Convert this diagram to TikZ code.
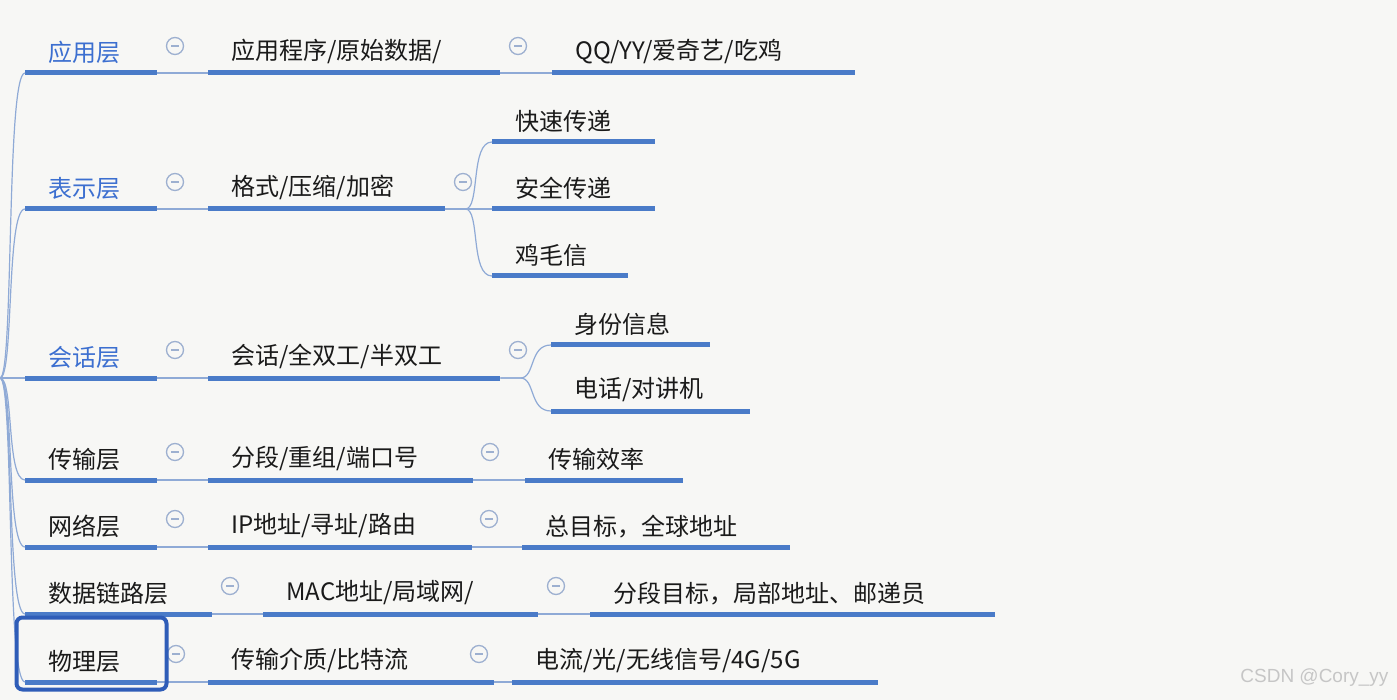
\documentclass[tikz,border=0pt]{standalone}
\usepackage{fontspec}
\usetikzlibrary{calc}
\newfontfamily\cjk{Noto Sans CJK SC}
\definecolor{bg}{HTML}{F7F7F5}
\definecolor{ul}{HTML}{4A7BC8}
\definecolor{cn}{HTML}{8FAAD6}
\definecolor{ic}{HTML}{9DB0D0}
\definecolor{bt}{HTML}{3C6FD0}
\definecolor{tx}{HTML}{1A1A1A}
\definecolor{hb}{HTML}{2F5DB8}
\tikzset{
 item/.style={anchor=south west,inner xsep=0pt,inner ysep=9pt,align=left,font=\cjk\fontsize{24}{28}\selectfont,text=tx},
 uline/.style={ul,line width=5pt},
 conn/.style={cn,line width=1.2pt},
 icon/.style={circle,draw=ic,line width=1.3pt,minimum size=17pt,inner sep=0pt,
   path picture={\draw[ic,line width=1.3pt] ([xshift=-4pt]path picture bounding box.center)--([xshift=4pt]path picture bounding box.center);}}
}
\newcommand{\itm}[6]{%
 \node[item,text width=#3-#2 pt,#6] (#1) at (#2,#4) {\hspace*{23pt}#5};
 \draw[uline] (#1.south west)--(#1.south east);}
\begin{document}
\begin{tikzpicture}[x=1pt,y=-1pt]
\fill[bg] (0,0) rectangle (1397,700);
\useasboundingbox (0,0) rectangle (1397,700);
\coordinate (root) at (0,378);
% level 1
\itm{a1}{25}{157}{73}{应用层}{text=bt}
\itm{b1}{25}{157}{209}{表示层}{text=bt}
\itm{c1}{25}{157}{378}{会话层}{text=bt}
\itm{d1}{25}{157}{480}{传输层}{}
\itm{e1}{25}{157}{547}{网络层}{}
\itm{f1}{25}{212}{614}{数据链路层}{}
\itm{g1}{25}{157}{682}{物理层}{}
% level 2
\itm{a2}{208}{500}{73}{应用程序/原始数据/}{}
\itm{b2}{208}{445}{209}{格式/压缩/加密}{}
\itm{c2}{208}{500}{378}{会话/全双工/半双工}{}
\itm{d2}{208}{473}{480}{分段/重组/端口号}{}
\itm{e2}{208}{472}{547}{IP地址/寻址/路由}{}
\itm{f2}{263}{538}{614}{MAC地址/局域网/}{}
\itm{g2}{208}{494}{682}{传输介质/比特流}{}
% level 3
\itm{a3}{552}{855}{73}{QQ/YY/爱奇艺/吃鸡}{}
\itm{b3a}{492}{655}{142}{快速传递}{}
\itm{b3b}{492}{655}{209}{安全传递}{}
\itm{b3c}{492}{628}{276}{鸡毛信}{}
\itm{c3a}{551}{710}{345}{身份信息}{}
\itm{c3b}{551}{750}{411}{电话/对讲机}{}
\itm{d3}{525}{683}{480}{传输效率}{}
\itm{e3}{522}{790}{547}{总目标，全球地址}{}
\itm{f3}{590}{995}{614}{分段目标，局部地址、邮递员}{}
\itm{g3}{512}{878}{682}{电流/光/无线信号/4G/5G}{}
% icons
\foreach \n/\x/\y in {ia1/175/46,ia2/518/46,ib1/175/182,ib2/463/182,ic1/175/350,ic2/518/350,
  id1/175/452,id2/490/452,ie1/175/519,ie2/489/519,if1/230/586,if2/556/586,ig1/176/654,ig2/479/654}
  \node[icon] (\n) at (\x,\y) {};
% root connectors
\foreach \t in {a1,b1,c1,d1,e1,f1,g1}
  \draw[conn] (root) .. controls (14,378) and ($(\t.south west)+(-19,0)$) .. (\t.south west);
% level connectors
\foreach \s/\t in {a1/a2,b1/b2,c1/c2,d1/d2,e1/e2,f1/f2,g1/g2,a2/a3,d2/d3,e2/e3,f2/f3,g2/g3}
  \draw[conn] (\s.south east)--(\t.south west);
\foreach \t in {b3a,b3b,b3c}
  \draw[conn] (b2.south east) -- ++(20,0) .. controls ($(b2.south east)+(35,0)$) and ($(\t.south west)+(-22,0)$) .. (\t.south west);
\foreach \t in {c3a,c3b}
  \draw[conn] (c2.south east) -- ++(20,0) .. controls ($(c2.south east)+(35,0)$) and ($(\t.south west)+(-22,0)$) .. (\t.south west);
% highlight box
\node[draw=hb,line width=4pt,rounded corners=6pt,minimum height=72pt,minimum width=150pt] (hl) at (91.5,653.5) {};
\node[anchor=east,font=\fontspec{Liberation Sans}\fontsize{19}{22}\selectfont,text=gray!45] (wm) at (1392,678) {CSDN @Cory\_yy};
\end{tikzpicture}
\end{document}
